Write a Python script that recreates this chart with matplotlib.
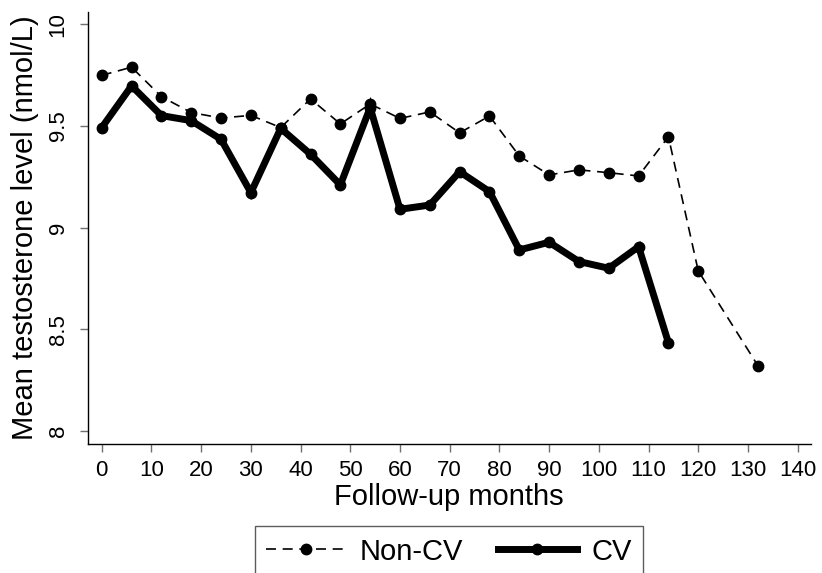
import matplotlib
matplotlib.use("Agg")
import matplotlib.pyplot as plt

plt.rcParams['font.family'] = ['Liberation Sans', 'DejaVu Sans']

months_noncv = [0, 6, 12, 18, 24, 30, 36, 42, 48, 54, 60, 66, 72, 78, 84, 90, 96, 102, 108, 114, 120, 132]
noncv = [9.749, 9.789, 9.644, 9.566, 9.539, 9.552, 9.492, 9.633, 9.510, 9.608, 9.537, 9.569, 9.466,
         9.549, 9.352, 9.259, 9.284, 9.270, 9.254, 9.447, 8.787, 8.321]

months_cv = [0, 6, 12, 18, 24, 30, 36, 42, 48, 54, 60, 66, 72, 78, 84, 90, 96, 102, 108, 114]
cv = [9.492, 9.697, 9.551, 9.526, 9.434, 9.172, 9.488, 9.361, 9.210, 9.590, 9.090, 9.111, 9.275,
      9.177, 8.890, 8.928, 8.833, 8.800, 8.906, 8.434]

xticks = list(range(0, 141, 10))
yticks = [8, 8.5, 9, 9.5, 10]
ytick_labels = ['8', '8.5', '9', '9.5', '10']

fig = plt.figure(figsize=(8.22, 5.73), dpi=100)
ax = fig.add_axes([0.1071, 0.2246, 0.9861 - 0.1071, 0.9796 - 0.2246])

l1, = ax.plot(months_noncv, noncv, color='black', lw=1.2, dashes=(6, 4),
              marker='o', markersize=7.5, label='Non-CV')
l2, = ax.plot(months_cv, cv, color='black', lw=5, solid_joinstyle='miter',
              marker='o', markersize=7.5, label='CV')

ax.set_xlim(-2.76, 142.6)
ax.set_ylim(7.934, 10.062)
ax.set_xticks(xticks)
ax.set_xticklabels([str(t) for t in xticks])
ax.set_yticks(yticks)
ax.set_yticklabels(ytick_labels, rotation=90, va='center')

for s in ['top', 'right']:
    ax.spines[s].set_visible(False)
for s in ['left', 'bottom']:
    ax.spines[s].set_linewidth(1.0)

ax.tick_params(axis='both', direction='out', length=6, width=1, color='#707070',
               labelsize=16, labelcolor='black')
ax.tick_params(axis='x', pad=5)
ax.tick_params(axis='y', pad=8)

ax.set_xlabel('Follow-up months', fontsize=21, labelpad=2)
ax.set_ylabel('Mean testosterone level (nmol/L)', fontsize=21, labelpad=6)

leg = fig.legend(handles=[l1, l2], loc='upper center', bbox_to_anchor=(0.5463, 0.082),
                 ncol=2, fontsize=21, frameon=True, fancybox=False, edgecolor='#333333',
                 handlelength=2.7, handletextpad=0.5, columnspacing=1.2, numpoints=1,
                 borderpad=0.4, borderaxespad=0)
leg.get_frame().set_linewidth(1.0)

fig.savefig('out.png', dpi=100)
